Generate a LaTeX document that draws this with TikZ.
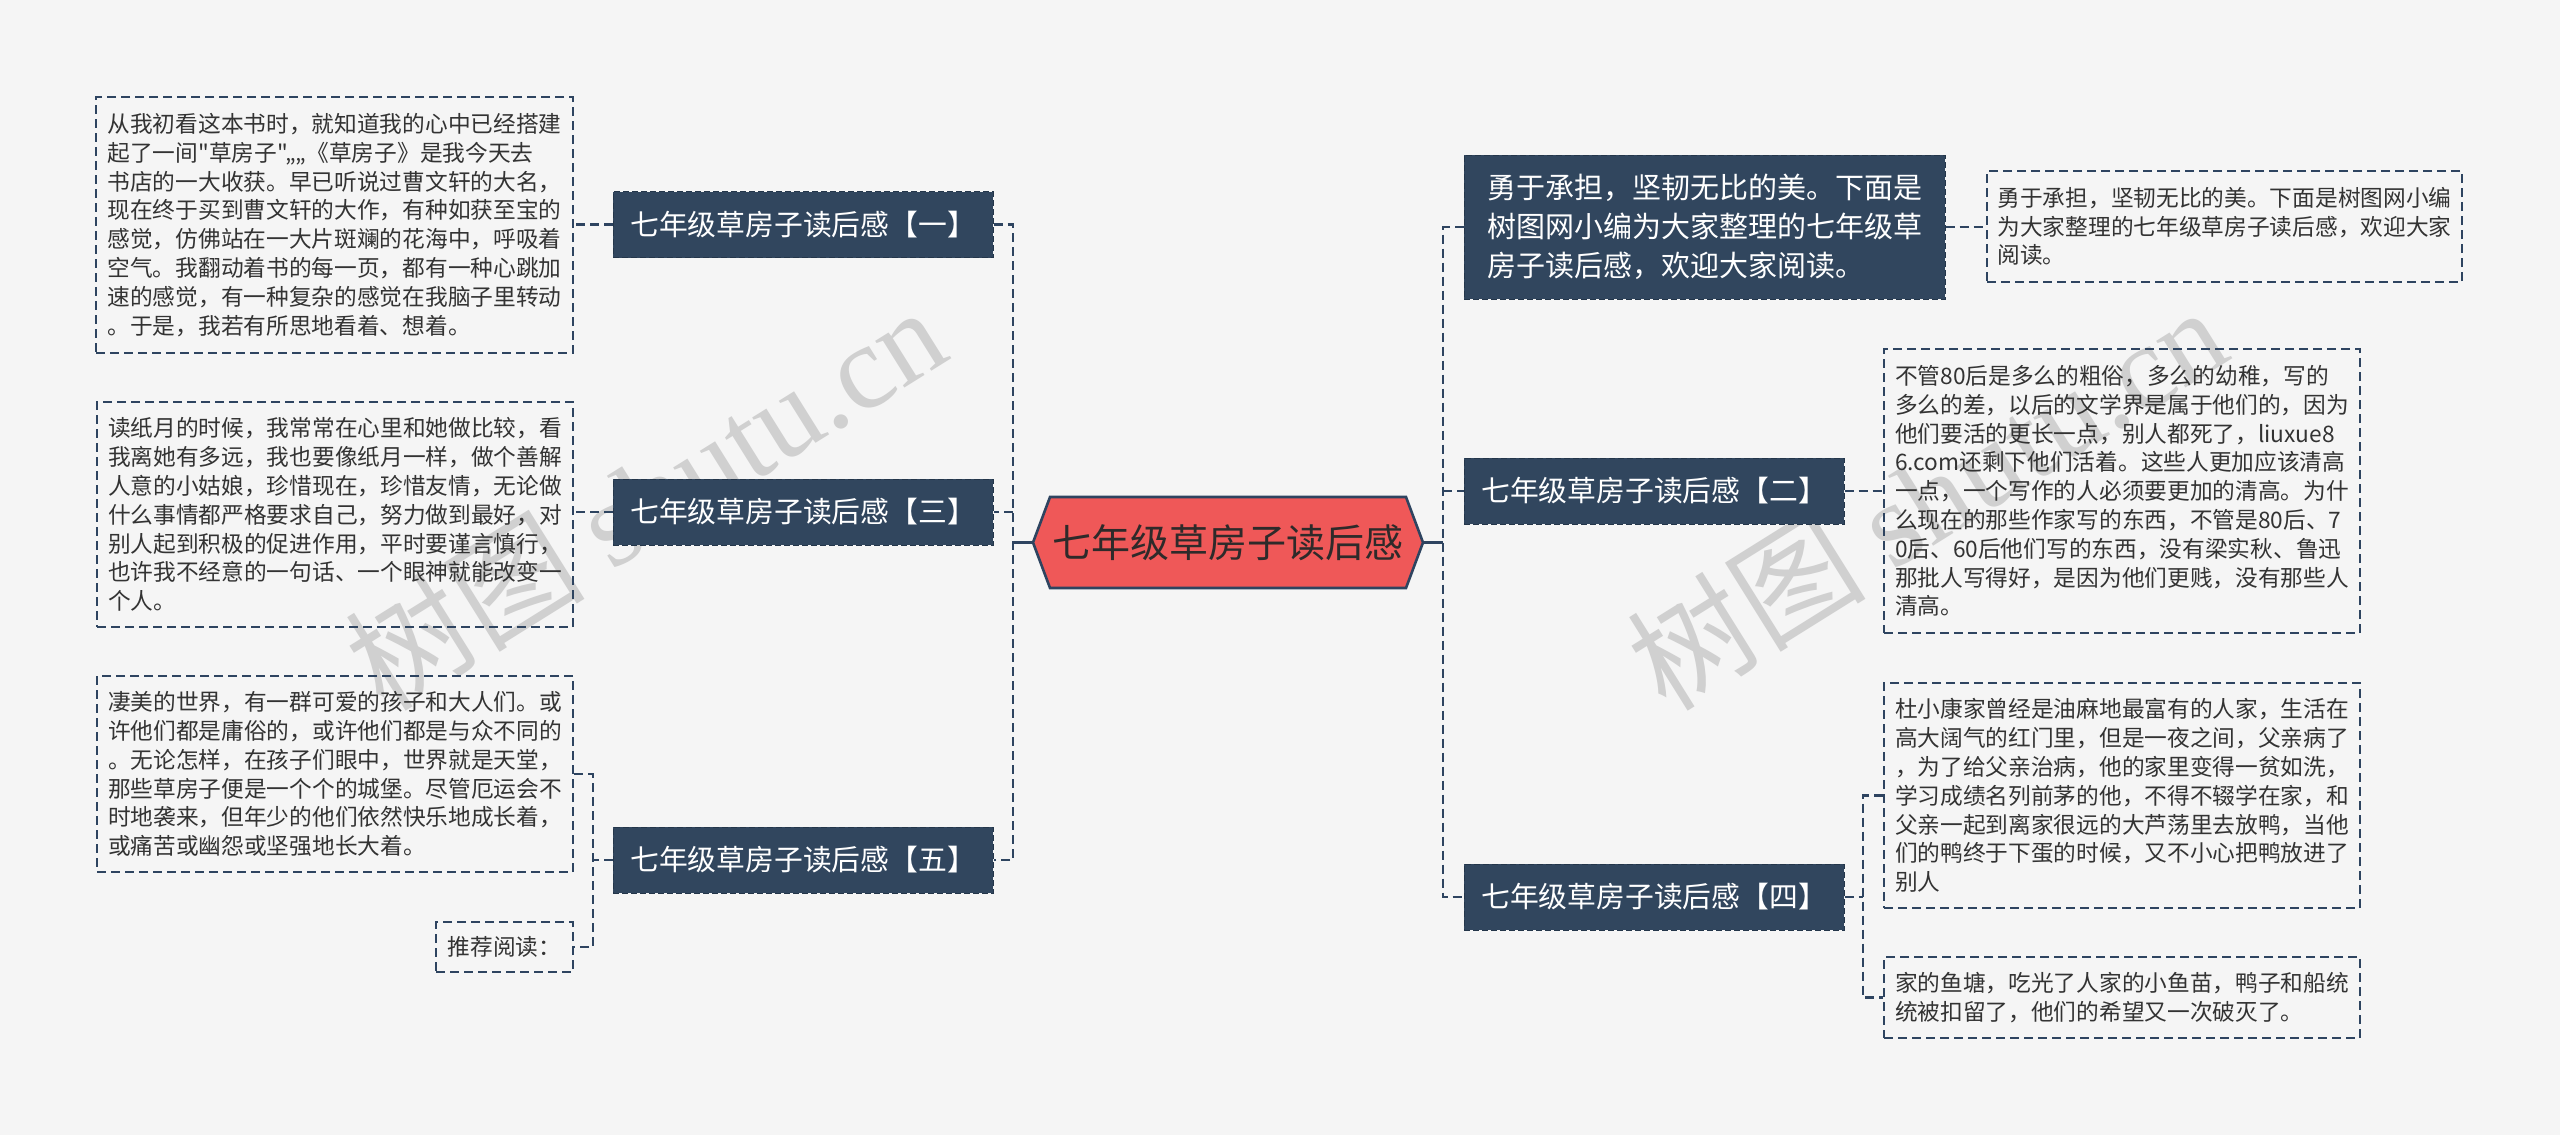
\documentclass[tikz,border=0pt]{standalone}
\usepackage{fontspec}
\setmainfont{Noto Sans CJK SC}
\newfontfamily\wmlatin{Liberation Serif}
\newfontfamily\wmcjk{Noto Sans CJK SC}
\newfontfamily\cjkplain{Noto Sans CJK SC}
\usetikzlibrary{shapes.symbols}
\definecolor{bgc}{HTML}{F5F5F5}
\definecolor{nodeblue}{HTML}{31465E}
\definecolor{nodeedge}{HTML}{24364A}
\definecolor{edgec}{HTML}{2E4460}
\definecolor{leaftext}{HTML}{333333}
\definecolor{centerred}{HTML}{EF5858}
\definecolor{centertext}{HTML}{2E2A2A}
\definecolor{wmgray}{HTML}{D0D0D0}
\tikzset{
  lvl/.style={fill=nodeblue, draw=nodeedge, line width=0.5pt, dash pattern=on 3pt off 1.5pt,
    text=white, font=\fontsize{14.4}{17}\selectfont, minimum width=190pt, minimum height=33pt, inner sep=0pt},
  leaf/.style={draw=edgec, line width=1pt, dash pattern=on 4.5pt off 2.5pt, text=leaftext,
    font=\fontsize{11.35}{14.4}\selectfont, align=left, inner sep=0pt},
  conn/.style={draw=edgec, line width=1.3pt, dash pattern=on 4.5pt off 2.5pt},
  connsolid/.style={draw=edgec, line width=1.3pt},
  wm/.style={text=wmgray, rotate=32, inner sep=0pt, font=\fontsize{60}{60}\selectfont},
}
\begin{document}
\begin{tikzpicture}[x=0.5pt,y=-0.5pt]
\path[use as bounding box, fill=bgc] (0,0) rectangle (2560,1135);

% watermarks
\node[wm] (wm1) at (645,497) {\wmcjk 树图 \wmlatin shutu.cn};
\node[wm] (wm2) at (1926,497) {\wmcjk 树图 \wmlatin shutu.cn};

% central node
\node[signal, signal to=west and east, signal pointer angle=139, fill=centerred, draw=edgec, line width=1.3pt,
  minimum width=195pt, minimum height=45.5pt, inner sep=0pt, text=centertext,
  font=\fontsize{19.5}{23}\selectfont] (c) at (1228,542.5) {七年级草房子读后感};

% level-1 nodes
\node[lvl] (n1) at (803,224.5) {七年级草房子读后感【一】};
\node[lvl] (n3) at (803,512) {七年级草房子读后感【三】};
\node[lvl] (n5) at (803,860) {七年级草房子读后感【五】};
\node[lvl] (n2) at (1654,491) {七年级草房子读后感【二】};
\node[lvl] (n4) at (1654,897) {七年级草房子读后感【四】};
\node[lvl, minimum width=240.5pt, minimum height=72pt, align=left, font=\fontsize{14.5}{19.5}\selectfont] (intro) at (1704.5,227)
  {勇于承担，坚韧无比的美。下面是\\树图网小编为大家整理的七年级草\\房子读后感，欢迎大家阅读。};

% leaves left
\node[leaf, minimum width=238.5pt, minimum height=128pt] (l1) at (334.5,225)
  {从我初看这本书时，就知道我的心中已经搭建\\{\cjkplain 起了一间"草房子"„„《草房子》是我今天去}\\书店的一大收获。早已听说过曹文轩的大名，\\现在终于买到曹文轩的大作，有种如获至宝的\\感觉，仿佛站在一大片斑斓的花海中，呼吸着\\空气。我翻动着书的每一页，都有一种心跳加\\速的感觉，有一种复杂的感觉在我脑子里转动\\。于是，我若有所思地看着、想着。};
\node[leaf, minimum width=238pt, minimum height=112.5pt] (l3) at (335,514.5)
  {读纸月的时候，我常常在心里和她做比较，看\\我离她有多远，我也要像纸月一样，做个善解\\人意的小姑娘，珍惜现在，珍惜友情，无论做\\什么事情都严格要求自己，努力做到最好，对\\别人起到积极的促进作用，平时要谨言慎行，\\也许我不经意的一句话、一个眼神就能改变一\\个人。};
\node[leaf, minimum width=238pt, minimum height=98pt] (l5) at (335,774)
  {凄美的世界，有一群可爱的孩子和大人们。或\\许他们都是庸俗的，或许他们都是与众不同的\\。无论怎样，在孩子们眼中，世界就是天堂，\\那些草房子便是一个个的城堡。尽管厄运会不\\时地袭来，但年少的他们依然快乐地成长着，\\或痛苦或幽怨或坚强地长大着。};
\node[leaf, minimum width=68.5pt, minimum height=25pt] (tj) at (504.5,947) {推荐阅读：};

% leaves right
\node[leaf, minimum width=237.5pt, minimum height=55.5pt] (il) at (2224.5,226.5)
  {勇于承担，坚韧无比的美。下面是树图网小编\\为大家整理的七年级草房子读后感，欢迎大家\\阅读。};
\node[leaf, minimum width=238pt, minimum height=142pt] (l2) at (2122,491)
  {不管80后是多么的粗俗，多么的幼稚，写的\\多么的差，以后的文学界是属于他们的，因为\\他们要活的更长一点，别人都死了，liuxue8\\6.com还剩下他们活着。这些人更加应该清高\\一点，一个写作的人必须要更加的清高。为什\\么现在的那些作家写的东西，不管是80后、7\\0后、60后他们写的东西，没有梁实秋、鲁迅\\那批人写得好，是因为他们更贱，没有那些人\\清高。};
\node[leaf, minimum width=238pt, minimum height=112.5pt] (l4a) at (2122,795.5)
  {杜小康家曾经是油麻地最富有的人家，生活在\\高大阔气的红门里，但是一夜之间，父亲病了\\，为了给父亲治病，他的家里变得一贫如洗，\\学习成绩名列前茅的他，不得不辍学在家，和\\父亲一起到离家很远的大芦荡里去放鸭，当他\\们的鸭终于下蛋的时候，又不小心把鸭放进了\\别人};
\node[leaf, minimum width=238pt, minimum height=40.5pt] (l4b) at (2122,997.5)
  {家的鱼塘，吃光了人家的小鱼苗，鸭子和船统\\统被扣留了，他们的希望又一次破灭了。};

% junction coordinates
\coordinate (lj) at (1013,542.5);
\coordinate (rj) at (1443,542.5);
\coordinate (j5) at (593,860);
\coordinate (j4) at (1863,897);

% central connectors
\draw[connsolid] (c.west) -- (lj);
\draw[connsolid] (c.east) -- (rj);
\draw[conn] (n1.east) -| (lj) |- (n5.east);
\draw[conn] (lj |- n3.east) -- (n3.east);
\draw[conn] (intro.west) -| (rj) |- (n4.west);
\draw[conn] (rj |- n2.west) -- (n2.west);

% leaf connectors left
\draw[conn] (n1.west) -- (l1.east |- n1.west);
\draw[conn] (n3.west) -- (l3.east |- n3.west);
\draw[conn] (n5.west) -- (j5);
\draw[conn] (l5.east) -| (j5) |- (tj.east);

% leaf connectors right
\draw[conn] (intro.east) -- (il.west |- intro.east);
\draw[conn] (n2.east) -- (l2.west |- n2.east);
\draw[conn] (n4.east) -- (j4);
\draw[conn] (l4a.west) -| (j4) |- (l4b.west);
\end{tikzpicture}
\end{document}
